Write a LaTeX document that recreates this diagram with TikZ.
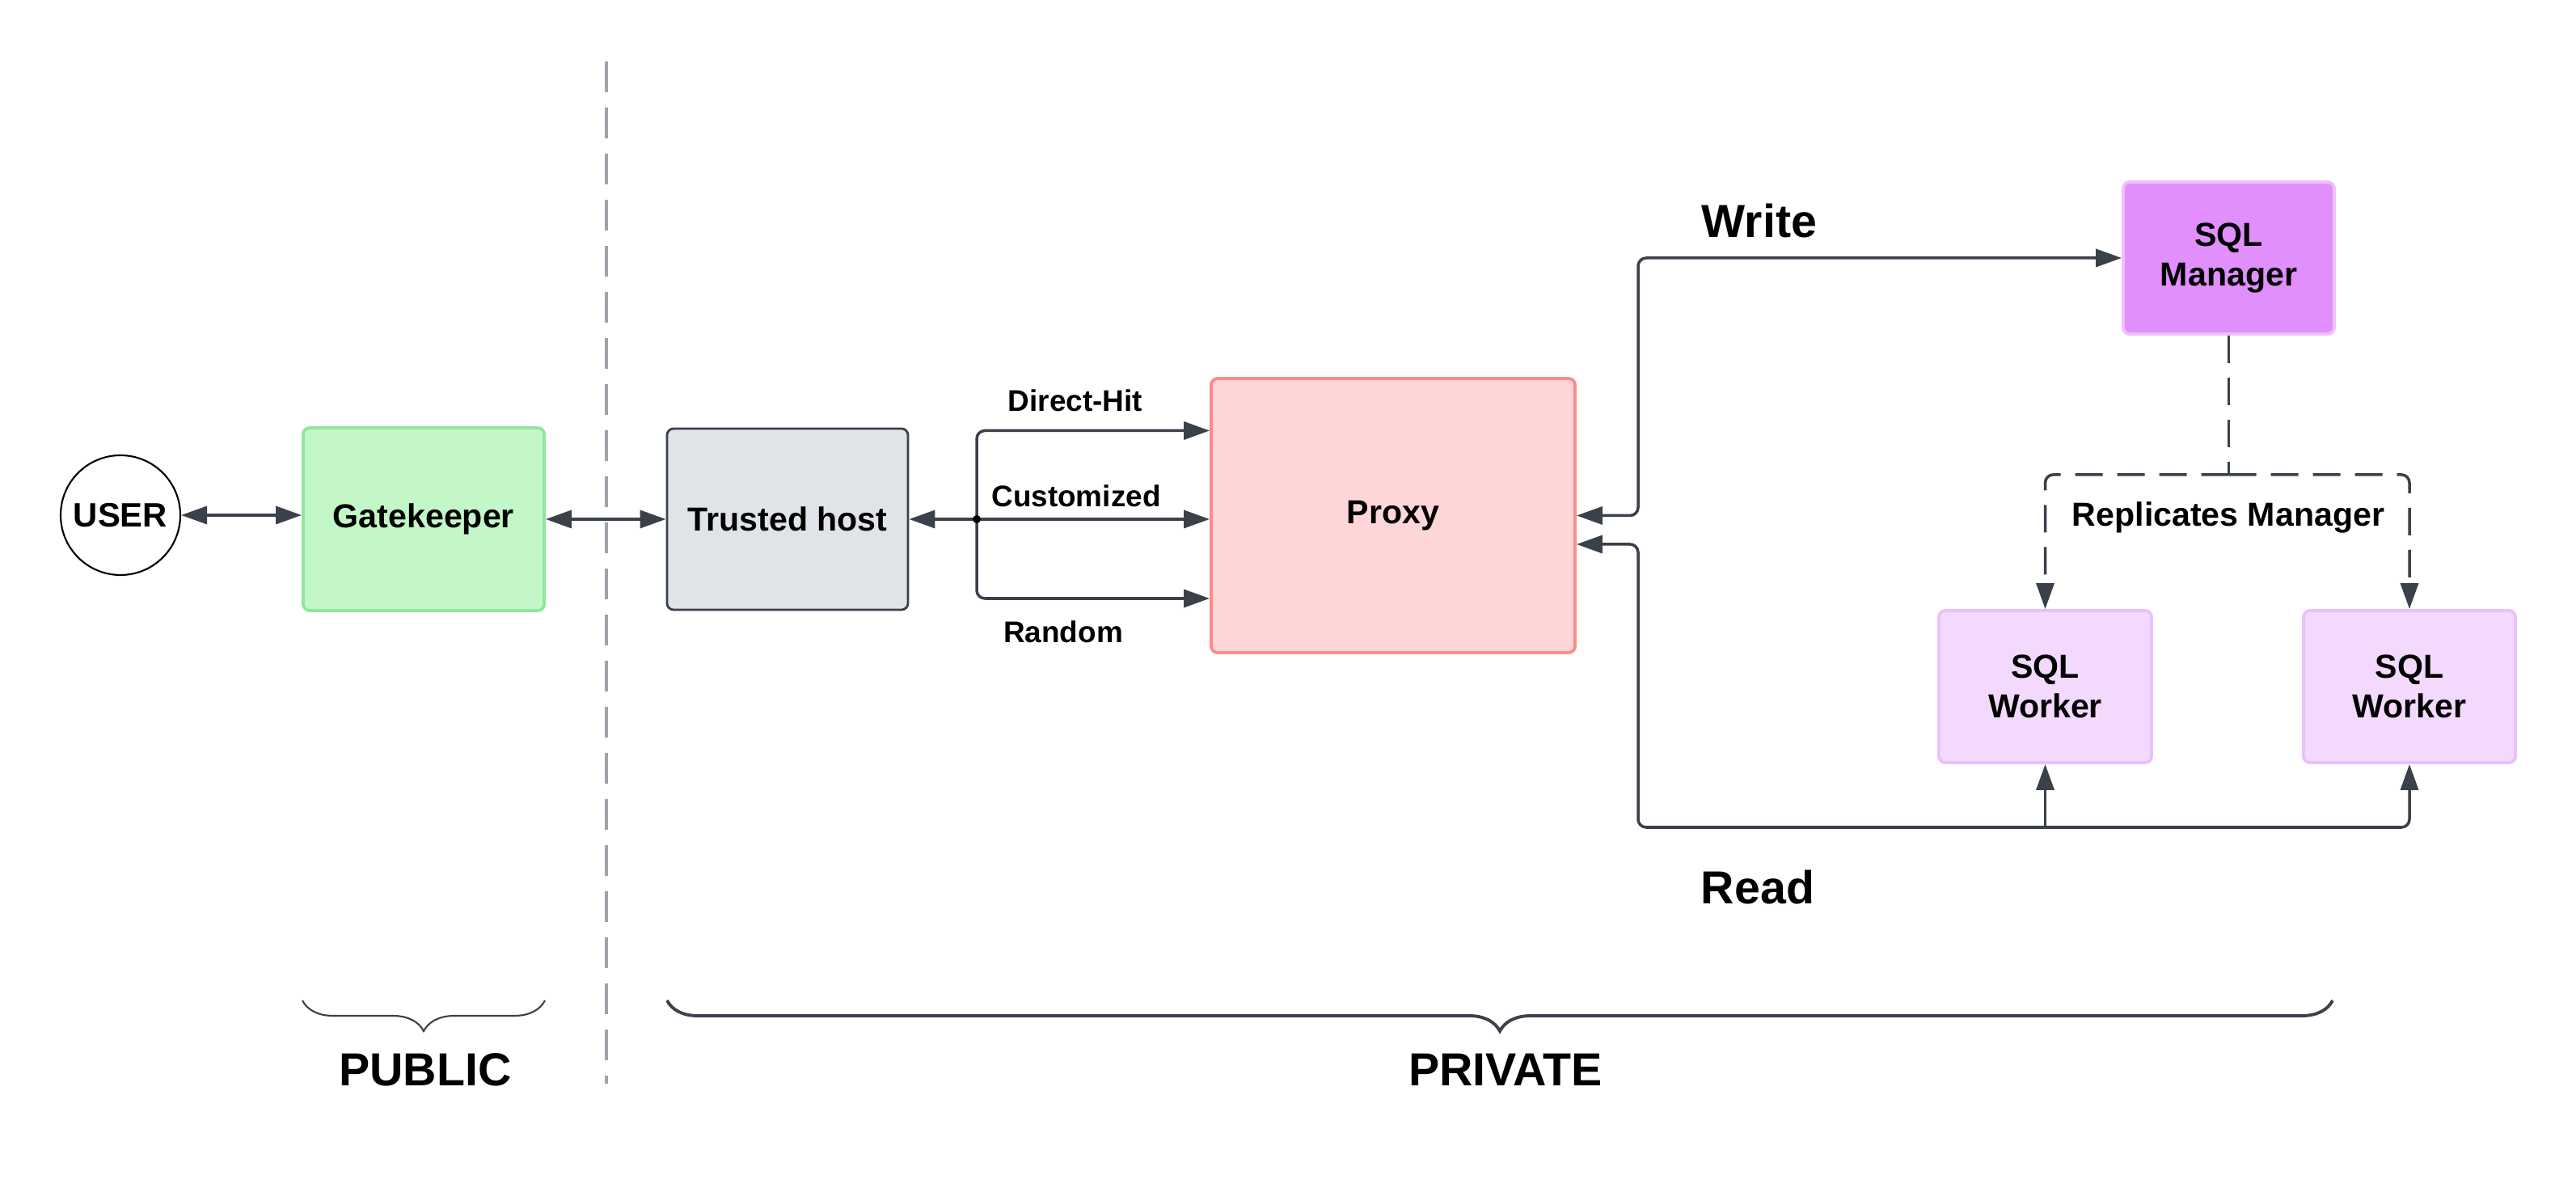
\documentclass[tikz,border=0pt]{standalone}
\usepackage{fontspec}
\setmainfont{Liberation Sans}
\usepackage{tikz}
\usetikzlibrary{arrows.meta,calc,decorations.pathreplacing}
\definecolor{ink}{HTML}{3A414A}
\definecolor{divgray}{HTML}{9EA2AA}
\definecolor{gatefill}{HTML}{C3F7C8}
\definecolor{gateline}{HTML}{8FE89A}
\definecolor{hostfill}{HTML}{E0E3E8}
\definecolor{proxyfill}{HTML}{FFD6D8}
\definecolor{proxyline}{HTML}{FC8C8C}
\definecolor{mgrfill}{HTML}{E08FFC}
\definecolor{mgrline}{HTML}{EFC0FC}
\definecolor{wkfill}{HTML}{F3D9FD}
\definecolor{wkline}{HTML}{EBC0FA}

\begin{document}
\begin{tikzpicture}[
>={Triangle[length=0.32cm,width=0.22cm]},
box/.style={draw, line width=1.1pt, rounded corners=0.08cm, align=center, inner sep=0pt,
font=\bfseries\fontsize{11.7}{14}\selectfont},
link/.style={draw=ink, line width=1pt, rounded corners=0.1cm},
dlink/.style={link, dash pattern=on 0.34cm off 0.18cm},
tag/.style={font=\bfseries\fontsize{10.5}{12}\selectfont},
big/.style={font=\bfseries\fontsize{16.3}{19}\selectfont},
bracket/.style={draw=ink, decorate, decoration={brace, mirror, amplitude=0.38cm}}]

\useasboundingbox (0,0) rectangle (31.86,14.63);

\draw[divgray, line width=0.9pt, dash pattern=on 0.38cm off 0.19cm] (7.50,13.87) -- (7.50,1.23);

\node [draw=black, circle, minimum size=1.48cm, line width=0.6pt, inner sep=0pt,
font=\bfseries\fontsize{11.9}{14}\selectfont] (user) at (1.49,8.26) {USER};
\node [box, draw=gateline, fill=gatefill, minimum width=2.98cm, minimum height=2.26cm] (gate) at (5.24,8.21) {Gatekeeper};
\node [box, draw=ink, line width=0.8pt, fill=hostfill, minimum width=2.98cm, minimum height=2.24cm] (host) at (9.74,8.21) {Trusted host};
\node [box, draw=proxyline, fill=proxyfill, minimum width=4.50cm, minimum height=3.39cm] (proxy) at (17.23,8.255) {Proxy};
\node [box, draw=mgrline, fill=mgrfill, minimum width=2.61cm, minimum height=1.88cm] (mgr) at (27.565,11.44) {SQL\\Manager};
\node [box, draw=wkline, fill=wkfill, minimum width=2.63cm, minimum height=1.88cm] (wk1) at (25.295,6.14) {SQL\\Worker};
\node [box, draw=wkline, fill=wkfill, minimum width=2.62cm, minimum height=1.88cm] (wk2) at (29.80,6.14) {SQL\\Worker};

\draw[link, <->] (user.east) -- (user.east -| gate.west);
\draw[link, <->] (gate) -- (host);

\coordinate (split) at (12.08,8.21);
\draw[link, ->] (split) -- (host.east);
\draw[link, ->] (split) |- ($(proxy.west)+(0,1.05)$);
\draw[link, ->] (split) -- (split -| proxy.west);
\draw[link, ->] (split) |- ($(proxy.west)+(0,-1.025)$);
\fill[black] (split) circle (0.05);

\path (13.30,9.68) node[tag] {Direct-Hit};
\path (13.31,8.50) node[tag] {Customized};
\path (13.15,6.82) node[tag] {Random};

\coordinate (wbend) at (20.26,11.44);
\draw[link, <->] (proxy.east) -| (wbend) -- (mgr.west);
\path (21.76,11.90) node[big] {Write};

\coordinate (rbus) at (20.26,4.40);
\draw[link, <->] ($(proxy.east)+(0,-0.355)$) -| (rbus) -| (wk2.south);
\draw[link, ->] (rbus -| wk1.south) -- (wk1.south);
\path (21.74,3.66) node[big] {Read};

\coordinate (rep) at ($(mgr.south)+(0,-1.72)$);
\draw[dlink] (mgr.south) -- (rep);
\draw[dlink, ->] (rep) -| (wk1.north);
\draw[dlink, ->] (rep) -| (wk2.north);
\path (27.56,8.23) node[box, draw=none] {Replicates Manager};

\draw[bracket, line width=0.6pt] (3.74,2.26) -- (6.74,2.26);
\draw[bracket, line width=1.1pt] (8.25,2.26) -- (28.85,2.26);
\path (5.26,1.40) node[big] {PUBLIC};
\path (18.62,1.40) node[big] {PRIVATE};
\end{tikzpicture}
\end{document}
